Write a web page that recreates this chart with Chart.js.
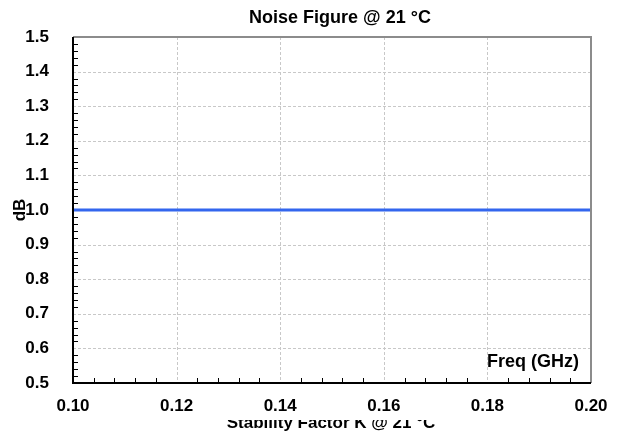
<!DOCTYPE html>
<html>
<head>
<meta charset="utf-8">
<script src="https://cdn.jsdelivr.net/npm/chart.js@4"></script>
<style>
  html, body { margin: 0; padding: 0; background: #fff; }
  #wrap { width: 618px; height: 432px; }
</style>
</head>
<body>
<div id="wrap"><canvas id="nf"></canvas></div>
<script>
// chart data
const freqGHz = [0.10, 0.12, 0.14, 0.16, 0.18, 0.20];
const noiseFigureDb = [1.0, 1.0, 1.0, 1.0, 1.0, 1.0];
const xTicks = [0.10, 0.12, 0.14, 0.16, 0.18, 0.20];
const yTicks = [0.5, 0.6, 0.7, 0.8, 0.9, 1.0, 1.1, 1.2, 1.3, 1.4, 1.5];

const FONT = "'Liberation Sans', Arial, sans-serif";

// grid, minor ticks, frame and the extra captions
const decor = {
    id: 'decor',
    beforeDatasetsDraw(chart) {
        const { ctx, chartArea: a, scales: { x, y } } = chart;
        ctx.save();
        ctx.lineWidth = 1;
        ctx.strokeStyle = '#c8c8c8';
        ctx.setLineDash([3, 2]);
        xTicks.slice(1, -1).forEach(v => {
            const px = Math.round(x.getPixelForValue(v)) + 0.5;
            ctx.beginPath(); ctx.moveTo(px, a.top); ctx.lineTo(px, a.bottom); ctx.stroke();
        });
        yTicks.slice(1, -1).forEach(v => {
            const py = Math.round(y.getPixelForValue(v)) + 0.5;
            ctx.beginPath(); ctx.moveTo(a.left, py); ctx.lineTo(a.right, py); ctx.stroke();
        });
        ctx.setLineDash([]);
        ctx.restore();
    },
    afterDatasetsDraw(chart) {
        const { ctx, chartArea: a, scales: { x, y } } = chart;
        ctx.save();
        // top / right frame
        ctx.strokeStyle = '#8c8c8c';
        ctx.lineWidth = 2;
        ctx.beginPath();
        ctx.moveTo(a.left, a.top); ctx.lineTo(a.right, a.top); ctx.lineTo(a.right, a.bottom);
        ctx.stroke();
        // minor ticks
        ctx.strokeStyle = '#000';
        ctx.lineWidth = 1;
        for (let i = 0; i <= 25; i++) {
            const v = 0.10 + i * 0.004;
            const px = Math.round(x.getPixelForValue(v)) + 0.5;
            const len = i % 5 === 0 ? 0 : 5;
            ctx.beginPath(); ctx.moveTo(px, a.bottom); ctx.lineTo(px, a.bottom - len); ctx.stroke();
        }
        for (let i = 0; i <= 50; i++) {
            const v = 0.5 + i * 0.02;
            const py = Math.round(y.getPixelForValue(v)) + 0.5;
            const len = i % 5 === 0 ? 0 : 5;
            ctx.beginPath(); ctx.moveTo(a.left, py); ctx.lineTo(a.left + len, py); ctx.stroke();
        }
        // left / bottom axes
        ctx.lineWidth = 2;
        ctx.beginPath();
        ctx.moveTo(a.left, a.top); ctx.lineTo(a.left, a.bottom); ctx.lineTo(a.right, a.bottom);
        ctx.stroke();

        ctx.fillStyle = '#000';
        ctx.font = 'bold 18px ' + FONT;
        ctx.textAlign = 'center';
        ctx.textBaseline = 'alphabetic';
        ctx.fillText('Noise Figure @ 21 °C', 340, 23);
        ctx.textAlign = 'right';
        ctx.fillText('Freq (GHz)', 579, 367);
        // half hidden caption at the bottom
        ctx.save();
        ctx.beginPath(); ctx.rect(0, 420, 618, 20); ctx.clip();
        ctx.font = 'bold 17px ' + FONT;
        ctx.textAlign = 'center';
        ctx.fillText('Stability Factor K @ 21 °C', 331, 428);
        ctx.restore();
        ctx.restore();
    }
};

new Chart(document.getElementById('nf'), {
    type: 'line',
    data: {
        datasets: [{
            data: freqGHz.map((f, i) => ({ x: f, y: noiseFigureDb[i] })),
            borderColor: '#3366ee',
            borderWidth: 3,
            pointRadius: 0,
            tension: 0
        }]
    },
    options: {
        responsive: true,
        maintainAspectRatio: false,
        animation: false,
        layout: { padding: { top: 37, right: 27, left: 0, bottom: 0 } },
        plugins: { legend: { display: false }, tooltip: { enabled: false } },
        scales: {
            x: {
                type: 'linear',
                min: 0.10, max: 0.20,
                afterBuildTicks: s => { s.ticks = xTicks.map(v => ({ value: v })); },
                afterFit: s => { s.height = 49; },
                grid: { display: false },
                border: { display: false },
                ticks: {
                    color: '#000',
                    padding: 5,
                    maxRotation: 0,
                    font: { family: FONT, size: 17, weight: 'bold' },
                    callback: v => v.toFixed(2)
                }
            },
            y: {
                min: 0.5, max: 1.5,
                afterBuildTicks: s => { s.ticks = yTicks.map(v => ({ value: v })); },
                afterFit: s => { s.width = 73; },
                grid: { display: false },
                border: { display: false },
                title: {
                    display: true, text: 'dB', color: '#000',
                    padding: { top: 10, bottom: 0 },
                    font: { family: FONT, size: 17, weight: 'bold' }
                },
                ticks: {
                    color: '#000',
                    padding: 16,
                    font: { family: FONT, size: 17, weight: 'bold' },
                    callback: v => v.toFixed(1)
                }
            }
        }
    },
    plugins: [decor]
});
</script>
</body>
</html>
